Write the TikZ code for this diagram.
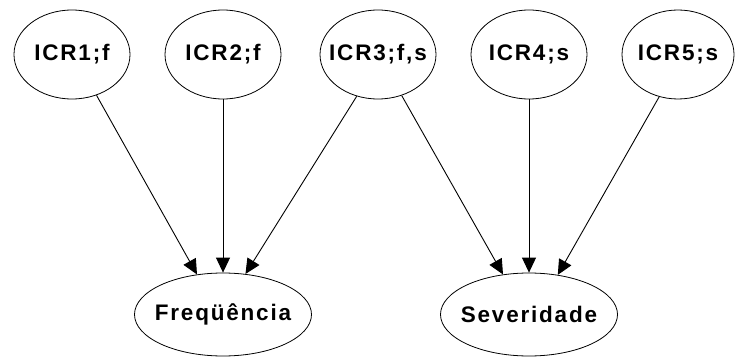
\documentclass[tikz,border=0pt]{standalone}
\usepackage{fontspec}
\setmainfont{Liberation Sans}[LetterSpace=8]
\usetikzlibrary{shapes.geometric,arrows.meta}

\tikzset{
  factor/.style={ellipse, draw=black, line width=0.8pt, minimum width=116pt,
    minimum height=89pt, inner sep=0pt},
  target/.style={ellipse, draw=black, line width=0.8pt, minimum width=177pt,
    minimum height=83pt, inner sep=0pt},
  tag/.style={font=\fontsize{22.5}{26}\selectfont\bfseries},
  link/.style={draw=black, line width=0.9pt,
    -{Triangle[length=15pt,width=14pt]}}
}

\begin{document}
\begin{tikzpicture}[x=1pt, y=-1pt]
  \useasboundingbox (0,0) rectangle (735,358);

  % risk factors
  \node[factor] (icr1) at (72,54.5)  {};
  \node[factor] (icr2) at (223,54.5) {};
  \node[factor] (icr3) at (378,54.5) {};
  \node[factor] (icr4) at (529,54.5) {};
  \node[factor, minimum width=112pt] (icr5) at (678,54.5) {};
  \node[tag] (t1) at (icr1) {ICR1;f};
  \node[tag] (t2) at (icr2) {ICR2;f};
  \node[tag] (t3) at (icr3) {ICR3;f,s};
  \node[tag] (t4) at (icr4) {ICR4;s};
  \node[tag] (t5) at (icr5) {ICR5;s};

  % outcomes
  \node[target] (freq) at (223,314.5) {};
  \node[target] (sev)  at (529,314.5) {};
  \node[tag] (tf) at (freq) {Freqüência};
  \node[tag] (ts) at (sev)  {Severidade};

  % dependencies
  \draw[link] (icr1.-59.5)  -- (freq.123.4);
  \draw[link] (icr2.south)  -- (freq.north);
  \draw[link] (icr3.-117.9) -- (freq.61.6);
  \draw[link] (icr3.-60.6)  -- (sev.123.9);
  \draw[link] (icr4.south)  -- (sev.north);
  \draw[link] (icr5.-114.5) -- (sev.54.8);
\end{tikzpicture}
\end{document}
